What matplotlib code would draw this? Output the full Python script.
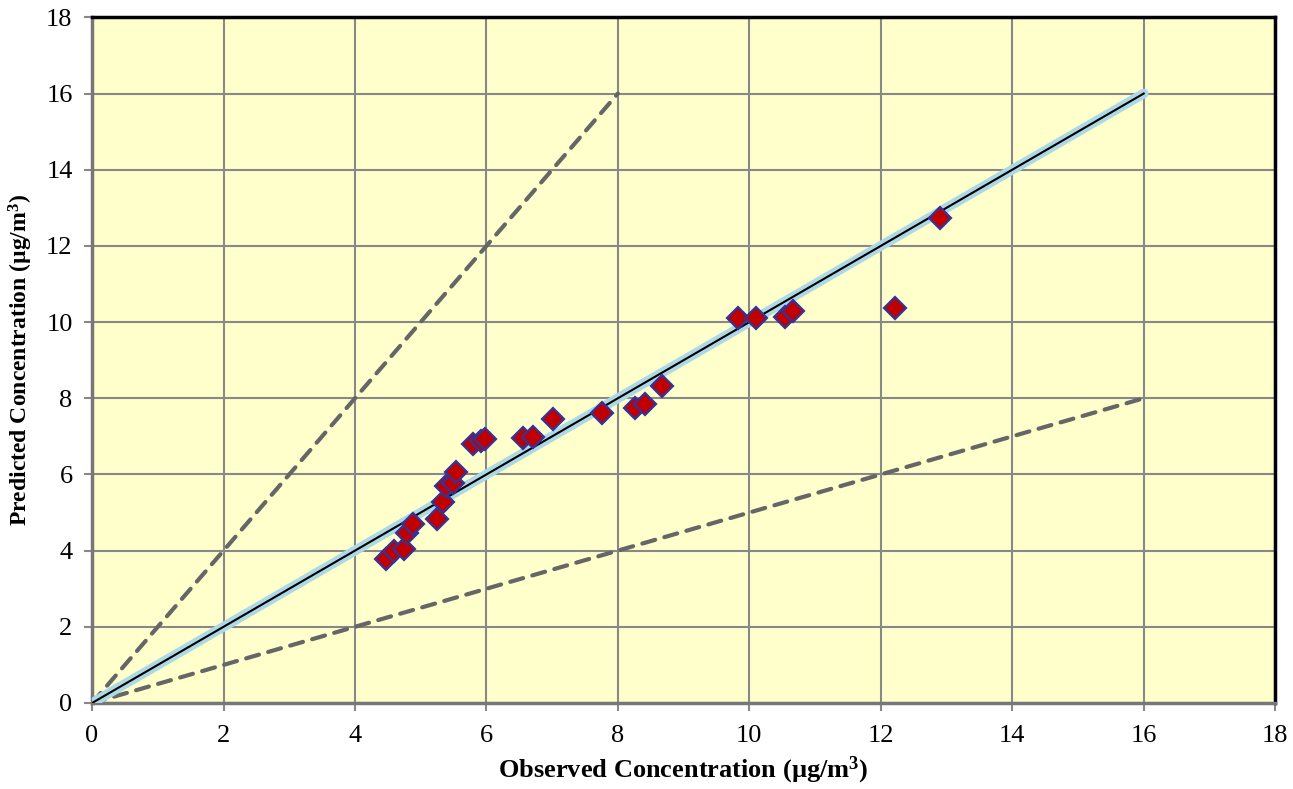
import numpy as np
import matplotlib
matplotlib.use('Agg')
import matplotlib.pyplot as plt

# observed vs predicted values (ug/m3)
obs = [4.47, 4.60, 4.75, 4.79, 4.88, 5.25, 5.34, 5.39, 5.49, 5.54,
       5.80, 5.92, 5.98, 6.56, 6.71, 7.01, 7.76, 8.26, 8.41, 8.67,
       9.83, 10.10, 10.54, 10.67, 12.22, 12.90]
pred = [3.78, 3.99, 4.05, 4.47, 4.70, 4.83, 5.28, 5.70, 5.78, 6.07,
        6.80, 6.88, 6.94, 6.96, 6.99, 7.46, 7.62, 7.75, 7.86, 8.33,
        10.12, 10.12, 10.14, 10.30, 10.38, 12.72]

# reference lines
one_x = [0, 16]
one_y = [0, 16]
f2_x = [0, 8]
f2_y = [0, 16]
h_x = [0, 16]
h_y = [0, 8]

plt.rcParams['font.family'] = ['Liberation Serif', 'DejaVu Serif']
plt.rcParams['mathtext.fontset'] = 'custom'
plt.rcParams['mathtext.rm'] = 'Liberation Serif'
plt.rcParams['mathtext.bf'] = 'Liberation Serif:bold'

fig = plt.figure(figsize=(12.93, 7.89), dpi=100)
ax = fig.add_axes([0.0712, 0.109, 0.915, 0.869])
ax.set_facecolor('#FFFFCC')

ax.plot(f2_x, f2_y, color='#666666', lw=3, ls=(0, (3.2, 2.3)), dash_capstyle='round', zorder=2)
ax.plot(h_x, h_y, color='#666666', lw=3, ls=(0, (3.2, 2.3)), dash_capstyle='round', zorder=2)
ax.plot(one_x, one_y, color='#ADD8E6', lw=7, solid_capstyle='round', zorder=3)
ax.plot(one_x, one_y, color='black', lw=1.5, zorder=4)
ax.plot(obs, pred, 'D', ms=11, mfc='#C00000', mec='#333399', mew=1.6, ls='none', zorder=5)

ax.set_xlim(0, 18)
ax.set_ylim(0, 18)
ax.set_xticks(np.arange(0, 19, 2))
ax.set_yticks(np.arange(0, 19, 2))
ax.grid(True, color='#888888', lw=1.5)
ax.set_axisbelow(True)
ax.tick_params(labelsize=19, color='#888888', length=6, width=1.5)
ax.tick_params(axis='x', pad=10)
ax.tick_params(axis='y', pad=8)

for s in ['top', 'right']:
    ax.spines[s].set_color('black')
    ax.spines[s].set_linewidth(2.5)
for s in ['left', 'bottom']:
    ax.spines[s].set_color('#777777')
    ax.spines[s].set_linewidth(2.5)

ax.set_xlabel(r'Observed Concentration (µg/m$\mathbf{^3}$)', fontsize=19, fontweight='bold', labelpad=5)
ax.set_ylabel(r'Predicted Concentration (µg/m$\mathbf{^3}$)', fontsize=17, fontweight='bold', labelpad=8)

fig.savefig('out.png', dpi=100)
